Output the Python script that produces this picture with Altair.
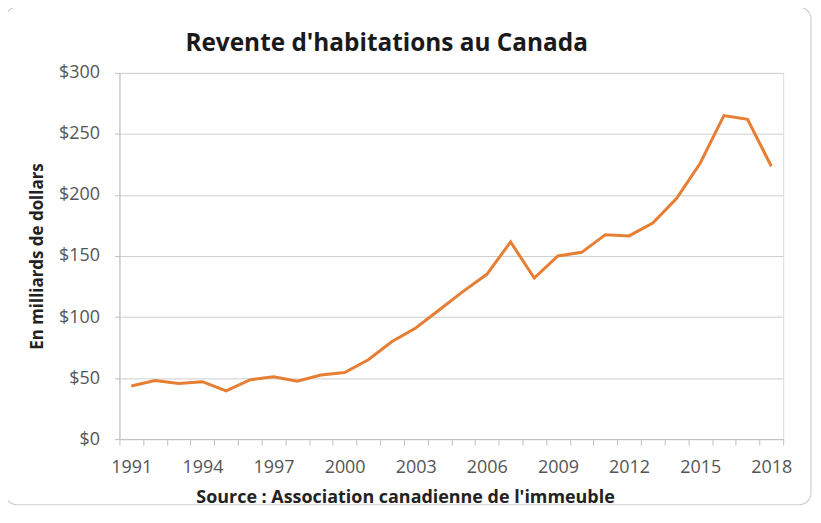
import altair as alt
import pandas as pd

years = list(range(1991, 2019))
values = [43.5, 48, 45.5, 47, 39.5, 48.5, 51, 47.5, 52.5, 54.5,
          65, 80, 91, 106, 121, 135, 161.5, 132, 150, 153,
          167.5, 166.5, 177, 197, 226, 265, 262, 223.5]

title_text = "Revente d'habitations au Canada"
y_title = "En milliards de dollars"
x_title = "Source :  Association canadienne de l'immeuble"

df = pd.DataFrame({"year": years, "value": values})
FONT = "Open Sans"

frame = alt.Chart(pd.DataFrame({"a": [0]})).mark_rect(
    fillOpacity=0, stroke="#d0d0d0", strokeWidth=1.2, cornerRadius=12
).encode(
    x=alt.value(-115), x2=alt.value(695), y=alt.value(-66), y2=alt.value(434)
)

line = alt.Chart(df).mark_line(color="#E67E33", strokeWidth=3).encode(
    x=alt.X("year:O", bandPosition=0.5,
            scale=alt.Scale(type="band", paddingInner=0, paddingOuter=0),
            axis=alt.Axis(
                title=x_title, tickBand="extent", labelAngle=0, labelOverlap=False,
                labelExpr="(datum.value - 1991) % 3 == 0 ? datum.label : ''",
                labelFont=FONT, labelFontSize=18, labelColor="#555555", labelPadding=14,
                tickSize=6, tickColor="#bfbfbf", domainColor="#bfbfbf", grid=False,
                titleFont=FONT, titleFontSize=18, titleFontWeight="bold", titleColor="#222222",
                titleX=287, titleY=59, titleBaseline="middle", titleAnchor="middle",
            )),
    y=alt.Y("value:Q",
            scale=alt.Scale(domain=[0, 300], nice=False),
            axis=alt.Axis(
                title=y_title, values=[0, 50, 100, 150, 200, 250, 300], format="$,.0f",
                labelFont=FONT, labelFontSize=18, labelColor="#555555", labelPadding=15,
                tickSize=5, tickColor="#bfbfbf", domainColor="#bfbfbf",
                grid=True, gridColor="#cfcfcf", gridWidth=1,
                titleFont=FONT, titleFontSize=17, titleFontWeight="bold", titleColor="#222222",
                titleX=-82, titleY=184, titleBaseline="middle", titleAngle=-90,
            )),
)

chart = alt.layer(frame, line).properties(
    width=667, height=368,
    title=alt.TitleParams(title_text, font=FONT, fontSize=24.5, fontWeight="bold",
                          color="#1a1a1a", anchor="middle", dx=-65, offset=0, dy=50),
    padding={"left": 112, "top": 64, "right": 30, "bottom": 68},
    autosize=alt.AutoSizeParams(type="none"),
).configure_view(stroke=None).configure(background="white")

chart.save("out.html", embed_options={"renderer": "svg", "actions": False})
